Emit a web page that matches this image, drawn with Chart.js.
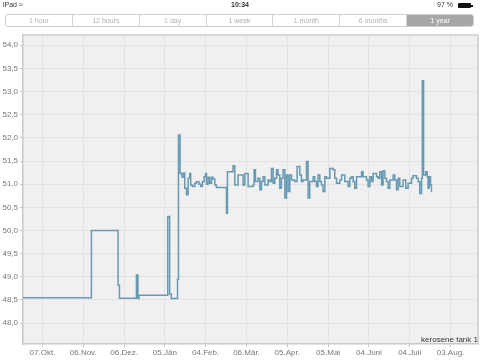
<!DOCTYPE html>
<html>
<head>
<meta charset="utf-8">
<script src="https://cdn.jsdelivr.net/npm/chart.js@4"></script>
<style>
  html, body { margin: 0; padding: 0; background: #fff; }
  body { width: 480px; height: 360px; position: relative; overflow: hidden; font-family: "Liberation Sans", Arial, sans-serif; }
  #c { position: absolute; left: 0; top: 0; }
  .status { position: absolute; top: 1px; font-size: 7px; color: #333; }
  #seg { position: absolute; left: 5px; top: 14px; width: 469px; height: 13px; border: 1px solid #cfcfcf; border-radius: 3px; display: flex; box-sizing: border-box; overflow: hidden; }
  #seg div { flex: 1; text-align: center; font-size: 7px; line-height: 11px; color: #b0b0b0; border-left: 1px solid #d4d4d4; }
  #seg div:first-child { border-left: none; }
  #seg div.sel { background: #a6a6a6; color: #fff; }
  #legend { position: absolute; right: 2px; top: 335px; font-size: 8px; color: #333; }
  #bat { position: absolute; left: 458px; top: 3px; width: 13px; height: 5px; background: #111; border-radius: 1px; }
  #batcap { position: absolute; left: 471px; top: 4.5px; width: 1.5px; height: 2px; background: #111; }
</style>
</head>
<body>
<canvas id="c" width="480" height="360"></canvas>
<div class="status" style="left:3px;">iPad &#8776;</div>
<div class="status" style="left:0; width:480px; text-align:center; font-weight:bold;">10:34</div>
<div class="status" style="left:437px;">97 %</div>
<div id="bat"></div><div id="batcap"></div>
<div id="seg"></div>
<div id="legend">kerosene tank 1</div>
<script>
// ---- data ----
const ranges = ["1 hour", "12 hours", "1 day", "1 week", "1 month", "6 months", "1 year"];
const selectedRange = "1 year";
const seriesName = "kerosene tank 1";
// x tick labels (days counted from 07.Okt.)
const tickDays = [0, 30, 60, 90, 120, 150, 180, 210, 240, 270, 300];
const tickLabels = ["07.Okt.", "06.Nov.", "06.Dez.", "05.Jän", "04.Feb.", "06.Mär.", "05.Apr.", "05.Mai", "04.Juni", "04.Juli", "03.Aug."];
const yTicks = [48.0, 48.5, 49.0, 49.5, 50.0, 50.5, 51.0, 51.5, 52.0, 52.5, 53.0, 53.5, 54.0];
const dayMin = -14.3, dayMax = 320.2;
const yMin = 47.55, yMax = 54.22;
// measurement times (days since 07.Okt.) and levels
const days = [
  -14.3, 36.0, 55.6, 56.6, 69.1, 70.2, 71.0, 92.1, 93.5, 94.7, 99.3, 100.0, 101.2,
  101.7, 102.6, 103.4, 104.6, 105.9, 107.1, 108.3, 109.0, 110.3, 112.0, 113.2, 115.1, 116.4, 117.6,
  118.8, 119.9, 120.6, 121.8, 123.0, 124.3, 125.4, 126.7, 127.9, 135.3, 136.0, 140.1, 141.4, 143.8,
  147.5, 148.8, 151.2, 154.9, 155.6, 156.6, 158.5, 159.8, 161.0, 162.2, 163.5, 165.9, 167.1, 168.4,
  169.6, 170.8, 172.1, 173.2, 174.5, 175.7, 176.9, 178.2, 179.4, 180.6, 181.8, 183.1, 185.5, 187.2,
  189.2, 190.4, 191.6, 194.1, 195.3, 196.5, 199.0, 200.2, 201.5, 202.6, 203.9, 205.1, 206.3, 207.6,
  208.8, 211.3, 213.7, 214.9, 216.2, 218.6, 219.9, 222.3, 224.7, 226.0, 227.2, 228.4, 229.6, 230.9,
  234.6, 235.7, 238.2, 239.4, 240.7, 241.9, 243.1, 245.6, 246.8, 248.0, 249.3, 250.4, 251.7, 252.9,
  254.1, 255.4, 257.8, 259.0, 260.3, 261.5, 262.7, 265.1, 267.1, 268.8, 271.3, 272.5, 275.0, 276.2,
  277.4, 278.7, 279.3, 280.2, 281.8, 282.8, 283.5, 284.3, 285.3, 286.0, 286.3
];
const levels = [
  48.55, 50.00, 48.82, 48.54, 49.04, 48.53, 48.60, 50.30, 48.63, 48.53, 48.95, 52.06, 51.23,
  51.23, 51.15, 51.24, 50.91, 50.77, 51.13, 51.23, 50.98, 50.95, 51.02, 51.05, 51.00, 50.95, 51.05,
  51.16, 51.23, 51.00, 51.15, 51.02, 51.15, 51.11, 50.98, 50.93, 50.37, 51.27, 51.40, 50.98, 51.20,
  50.98, 51.23, 50.95, 50.98, 51.31, 51.06, 51.13, 50.88, 51.06, 51.16, 50.98, 51.09, 51.06, 51.34,
  51.02, 51.13, 51.31, 51.20, 50.91, 51.13, 51.31, 50.70, 51.20, 50.84, 51.20, 51.09, 51.06, 51.38,
  51.20, 51.06, 51.09, 51.49, 50.70, 51.06, 51.16, 51.06, 50.95, 51.20, 51.06, 50.98, 50.84, 51.16,
  51.13, 51.34, 51.31, 51.13, 51.02, 51.09, 51.20, 51.06, 50.95, 51.13, 51.16, 51.06, 50.91, 51.16,
  51.27, 51.16, 51.09, 50.95, 51.16, 51.06, 51.23, 51.16, 51.13, 51.27, 50.98, 51.29, 51.13, 51.06,
  50.91, 51.09, 51.20, 51.09, 50.88, 51.13, 50.95, 51.09, 50.91, 51.02, 51.13, 51.18, 51.13, 51.05,
  50.80, 51.13, 53.23, 51.20, 51.27, 51.16, 50.91, 51.16, 50.98, 50.84, 50.84
];

// ---- header segmented control ----
const seg = document.getElementById('seg');
ranges.forEach(r => {
  const d = document.createElement('div');
  d.textContent = r;
  if (r === selectedRange) d.className = 'sel';
  seg.appendChild(d);
});
document.getElementById('legend').textContent = seriesName;

// ---- chart ----
const plotFrame = {
  id: 'plotFrame',
  beforeDraw(chart) {
    const a = chart.chartArea, ctx = chart.ctx;
    ctx.save();
    ctx.fillStyle = '#f0f0f0';
    ctx.fillRect(a.left, a.top, a.right - a.left, a.bottom - a.top);
    ctx.restore();
  },
  afterDraw(chart) {
    const a = chart.chartArea, ctx = chart.ctx;
    ctx.save();
    ctx.strokeStyle = '#cdcdcd';
    ctx.lineWidth = 1.5;
    ctx.beginPath();
    ctx.moveTo(a.left, a.top); ctx.lineTo(a.right, a.top); ctx.lineTo(a.right, a.bottom);
    ctx.stroke();
    ctx.restore();
  }
};

new Chart(document.getElementById('c'), {
  type: 'line',
  data: {
    datasets: [{
      label: seriesName,
      data: days.map((d, i) => ({ x: d, y: levels[i] })),
      stepped: true,
      borderColor: '#6799b2',
      borderWidth: 1.5,
      pointRadius: 0,
      fill: false
    }]
  },
  options: {
    responsive: false,
    animation: false,
    layout: { padding: { top: 35, right: 2, left: 0, bottom: 0 } },
    plugins: { legend: { display: false }, tooltip: { enabled: false } },
    scales: {
      x: {
        type: 'linear',
        min: dayMin, max: dayMax,
        afterBuildTicks(s) { s.ticks = tickDays.map(v => ({ value: v })); },
        afterFit(s) { s.height = 16; },
        ticks: {
          autoSkip: false, maxRotation: 0, padding: 1,
          color: '#777', font: { family: 'Liberation Sans', size: 8 },
          callback(v) { const i = tickDays.indexOf(v); return i >= 0 ? tickLabels[i] : ''; }
        },
        grid: { color: '#e3e3e3', lineWidth: 1, tickLength: 3, tickColor: '#c4c4c4' },
        border: { color: '#c8c8c8', width: 1.5 }
      },
      y: {
        type: 'linear',
        min: yMin, max: yMax,
        afterBuildTicks(s) { s.ticks = yTicks.map(v => ({ value: v })); },
        afterFit(s) { s.width = 23; },
        ticks: {
          padding: 2, color: '#777', font: { family: 'Liberation Sans', size: 8 },
          callback(v) { return v.toFixed(1).replace('.', ','); }
        },
        grid: { color: '#e3e3e3', lineWidth: 1, tickLength: 3, tickColor: '#c4c4c4' },
        border: { color: '#c8c8c8', width: 1.5 }
      }
    }
  },
  plugins: [plotFrame]
});
</script>
</body>
</html>
